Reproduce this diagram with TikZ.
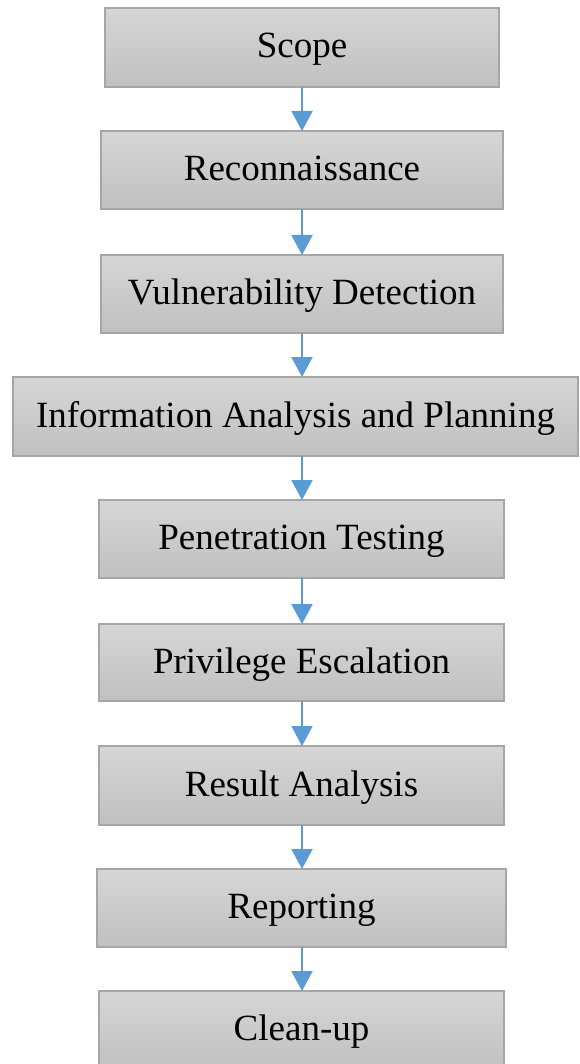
\documentclass[tikz,border=0pt]{standalone}
\usepackage{fontspec}
\setmainfont{Liberation Serif}
\usetikzlibrary{arrows.meta}
\definecolor{boxtop}{HTML}{D6D6D6}
\definecolor{boxbot}{HTML}{C0C0C0}
\definecolor{boxline}{HTML}{A6A6A6}
\definecolor{arrblue}{HTML}{5B9BD5}
\tikzset{
  stepbox/.style={draw=boxline, line width=1.2pt, top color=boxtop, bottom color=boxbot,
    inner sep=0pt, outer sep=0pt, text height=28pt, text depth=7pt,
    font=\fontsize{37}{40}\selectfont},
  flowarrow/.style={draw=arrblue, line width=2pt, -{Triangle[width=21pt,length=20pt]}}
}
\begin{document}
\begin{tikzpicture}[x=1pt,y=-1pt]
\useasboundingbox (0,0) rectangle (579,1064);
\node[stepbox, minimum width=394pt, minimum height=79pt] (n1) at (302,47.5) {Scope};
\node[stepbox, minimum width=402pt, minimum height=78pt] (n2) at (302,170) {Reconnaissance};
\node[stepbox, minimum width=402pt, minimum height=78pt] (n3) at (302,294) {Vulnerability Detection};
\node[stepbox, minimum width=565pt, minimum height=79pt] (n4) at (295.5,416.5) {Information Analysis and Planning};
\node[stepbox, minimum width=405pt, minimum height=78pt] (n5) at (301.5,539) {Penetration Testing};
\node[stepbox, minimum width=405pt, minimum height=77pt] (n6) at (301.5,662.5) {Privilege Escalation};
\node[stepbox, minimum width=405pt, minimum height=79pt] (n7) at (301.5,785.5) {Result Analysis};
\node[stepbox, minimum width=409pt, minimum height=78pt] (n8) at (301.5,908) {Reporting};
\node[stepbox, minimum width=405pt, minimum height=78pt] (n9) at (301.5,1030) {Clean-up};
\coordinate (ax) at (302,0);
\foreach \a/\b in {n1/n2,n2/n3,n3/n4,n4/n5,n5/n6,n6/n7,n7/n8,n8/n9}
  \draw[flowarrow] (\a.south -| ax) -- (\b.north -| ax);
\end{tikzpicture}
\end{document}
